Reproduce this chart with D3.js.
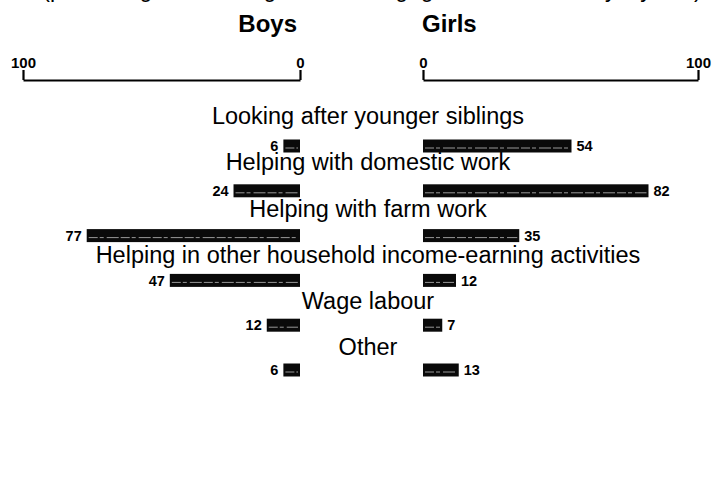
<!DOCTYPE html>
<html>
<head>
<meta charset="utf-8">
<script src="https://cdn.jsdelivr.net/npm/d3@7/dist/d3.min.js"></script>
<style>
  html, body { margin: 0; padding: 0; background: #fff; }
  svg { display: block; }
</style>
</head>
<body>
<svg id="chart" width="713" height="495"></svg>
<script>
const categories = [
  "Looking after younger siblings",
  "Helping with domestic work",
  "Helping with farm work",
  "Helping in other household income-earning activities",
  "Wage labour",
  "Other"
];
const boys  = [6, 24, 77, 47, 12, 6];
const girls = [54, 82, 35, 12, 7, 13];
const axisTicks = [0, 100];
const groupLabels = ["Boys", "Girls"];
const titleText = "(percentage of working children engaged in each activity, by sex)";

const svg = d3.select("#chart");
const font = "'Liberation Sans', Arial, Helvetica, sans-serif";

const xBoys  = d3.scaleLinear().domain([0, 100]).range([300, 23]);
const xGirls = d3.scaleLinear().domain([0, 100]).range([423, 698]);
const yLabel = d3.scalePoint().domain(categories).range([116, 347]);
const yBar   = d3.scalePoint().domain(categories).range([146, 370]);
const barH = 13;
const axisY = 80;

// cut-off title (only descenders visible)
svg.append("text")
  .attr("x", 372).attr("y", -3)
  .attr("text-anchor", "middle")
  .attr("font-family", font).attr("font-size", 23)
  .text(titleText);

// group labels
svg.append("text")
  .attr("x", xBoys(0) - 3).attr("y", 32)
  .attr("text-anchor", "end")
  .attr("font-family", font).attr("font-weight", "bold").attr("font-size", 24)
  .text(groupLabels[0]);
svg.append("text")
  .attr("x", xGirls(0) - 1).attr("y", 32)
  .attr("text-anchor", "start")
  .attr("font-family", font).attr("font-weight", "bold").attr("font-size", 24)
  .text(groupLabels[1]);

// axes
function drawAxis(scale) {
  const g = svg.append("g")
    .attr("transform", `translate(0,${axisY})`)
    .call(d3.axisTop(scale).tickValues(axisTicks).tickSizeInner(10).tickSizeOuter(0).tickPadding(2).tickFormat(d3.format("d")));
  g.select(".domain").attr("stroke", "#000").attr("stroke-width", 2.2);
  g.selectAll(".tick line").attr("stroke", "#000").attr("stroke-width", 2.2);
  g.selectAll(".tick text")
    .attr("font-family", font).attr("font-weight", "bold").attr("font-size", 15)
    .attr("fill", "#000");
  g.attr("font-family", null).attr("font-size", null);
}
drawAxis(xBoys);
drawAxis(xGirls);

// category labels
svg.append("g").selectAll("text").data(categories).join("text")
  .attr("x", 368)
  .attr("y", d => yLabel(d))
  .attr("dy", "0.35em")
  .attr("text-anchor", "middle")
  .attr("font-family", font).attr("font-size", 23.5)
  .attr("fill", "#000")
  .text(d => d);

// boys bars
const gb = svg.append("g");
gb.selectAll("rect").data(categories).join("rect")
  .attr("x", (d, i) => xBoys(boys[i]))
  .attr("y", d => yBar(d) - barH / 2)
  .attr("width", (d, i) => xBoys(0) - xBoys(boys[i]))
  .attr("height", barH)
  .attr("fill", "#0a0a0a");
gb.selectAll("line").data(categories).join("line")
  .attr("x1", (d, i) => xBoys(boys[i]) + 2)
  .attr("x2", d => xBoys(0) - 2)
  .attr("y1", d => yBar(d) + 2).attr("y2", d => yBar(d) + 2)
  .attr("stroke", "#999").attr("stroke-width", 1)
  .attr("stroke-dasharray", "9 2 4 3 12 2");
gb.selectAll("text").data(categories).join("text")
  .attr("x", (d, i) => xBoys(boys[i]) - 5)
  .attr("y", d => yBar(d))
  .attr("dy", "0.36em")
  .attr("text-anchor", "end")
  .attr("font-family", font).attr("font-weight", "bold").attr("font-size", 14.5)
  .text((d, i) => boys[i]);

// girls bars
const gg = svg.append("g");
gg.selectAll("rect").data(categories).join("rect")
  .attr("x", xGirls(0))
  .attr("y", d => yBar(d) - barH / 2)
  .attr("width", (d, i) => xGirls(girls[i]) - xGirls(0))
  .attr("height", barH)
  .attr("fill", "#0a0a0a");
gg.selectAll("line").data(categories).join("line")
  .attr("x1", xGirls(0) + 2)
  .attr("x2", (d, i) => xGirls(girls[i]) - 2)
  .attr("y1", d => yBar(d) + 2).attr("y2", d => yBar(d) + 2)
  .attr("stroke", "#999").attr("stroke-width", 1)
  .attr("stroke-dasharray", "9 2 4 3 12 2");
gg.selectAll("text").data(categories).join("text")
  .attr("x", (d, i) => xGirls(girls[i]) + 5)
  .attr("y", d => yBar(d))
  .attr("dy", "0.36em")
  .attr("text-anchor", "start")
  .attr("font-family", font).attr("font-weight", "bold").attr("font-size", 14.5)
  .text((d, i) => girls[i]);
</script>
</body>
</html>
